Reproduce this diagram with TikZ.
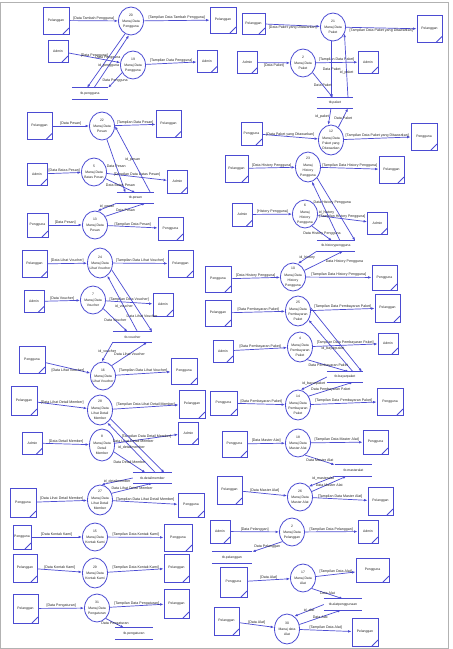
\documentclass[tikz,border=0pt]{standalone}
\usepackage{fontspec}
\setmainfont{Liberation Sans}
\usetikzlibrary{arrows.meta, positioning, shapes.geometric}

\definecolor{dfdline}{RGB}{75,75,210}
\definecolor{dfdtext}{RGB}{35,35,35}

\tikzset{
  entity/.style={
    draw=dfdline,
    rectangle,
    line width=0.8pt,
    minimum width=25pt,
    minimum height=27pt,
    inner sep=0pt,
    text=dfdtext,
    font=\fontsize{3.4}{4}\selectfont,
    path picture={
      \draw[dfdline, line width=0.8pt]
        ([xshift=-6pt]path picture bounding box.south east)
        -- ([yshift=6pt]path picture bounding box.south east);
    }
  },
  smallentity/.style={
    entity,
    minimum width=20pt,
    minimum height=22pt
  },
  proc/.style={
    draw=dfdline,
    ellipse,
    line width=0.8pt,
    minimum width=25pt,
    minimum height=28pt,
    inner sep=-2pt,
    align=center,
    text=dfdtext,
    font=\fontsize{3.4}{5}\selectfont
  },
  store/.style={
    rectangle,
    minimum width=37pt,
    minimum height=10pt,
    inner sep=0pt,
    text=dfdtext,
    font=\fontsize{3.4}{4}\selectfont
  },
  arrow/.style={
    -{Latex[length=3.5pt,width=2.6pt]},
    draw=dfdline,
    line width=0.7pt
  },
  lbl/.style={
    inner sep=0.5pt,
    text=dfdtext,
    font=\fontsize{3.6}{4}\selectfont
  }
}

\begin{document}
\begin{tikzpicture}[x=1pt, y=-1pt]
\useasboundingbox (0,0) rectangle (453,649);
\draw[gray!60, line width=0.8pt] (0.5,2) rectangle (448,648.5);

% Manaj Data Pengguna
\node[entity, minimum width=26pt] (in20) at (56,20.5) {Pelanggan};
\node[proc] (p20) at (131,21) {20\\[1.5pt]Manaj Data\\Pengguna};
\node[entity, minimum width=26pt, minimum height=26pt] (out20) at (223,20) {Pelanggan};
\node[smallentity] (in19) at (58,51) {Admin};
\node[proc] (p19) at (133,65) {19\\[1.5pt]Manaj Data\\Pengguna};
\node[smallentity] (out19) at (207,61.5) {Admin};
\node[store, minimum width=36pt, minimum height=11pt] (tbpengguna) at (90,93.5) {tb.pengguna};
\draw[arrow] (in20) -- node[lbl, above] {[Data Tambah Pengguna]} (p20);
\draw[arrow] (p20) -- node[lbl, above] {[Tampilan Data Tambah Pengguna]} (out20);
\draw[arrow] (in19) -- node[lbl, above] {[Data Pengguna]} (p19);
\draw[arrow] (p19) -- node[lbl, above] {[Tampilan Data Pengguna]} (out19);
\draw[arrow] (p20.245) -- node[lbl, pos=0.45] {Data Pengguna} ([xshift=-3pt]tbpengguna.north);
\draw[arrow] ([xshift=4pt]tbpengguna.north) -- node[lbl, pos=0.42] {id\_pengguna} (p20.262);
\draw[arrow] (p19.215) -- node[lbl] {Data Pengguna} (tbpengguna.north east);

% Manaj Data Paket
\node[entity, minimum width=23pt, minimum height=21pt] (in21) at (253.5,23.5) {Pelanggan};
\node[proc] (p21) at (333,27) {21\\[1.5pt]Manaj Data\\Paket};
\node[entity] (out21) at (429.5,29) {Pelanggan};
\node[smallentity] (in2) at (247.5,62.5) {Admin};
\node[proc] (p2) at (303,63) {2\\[1.5pt]Manaj Data\\Paket};
\node[smallentity] (out2) at (368,62) {Admin};
\node[store, minimum width=36pt] (tbpaket) at (335,103) {tb.paket};
\draw[arrow] (in21) -- node[lbl, below] {[Data Paket yang Ditawarkan]} (p21);
\draw[arrow] (p21) -- node[lbl, below] {[Tampilan Data Paket yang Ditawarkan]} (out21);
\draw[arrow] (in2) -- node[lbl, below] {[Data Paket]} (p2);
\draw[arrow] (p2) -- node[lbl, above] {[Tampilan Data Paket]} (out2);
\draw[arrow] (p21.265) -- node[lbl] {Data Paket} (p21.265 |- tbpaket.north);
\draw[arrow] ([xshift=13pt]tbpaket.north) -- node[lbl, pos=0.4] {id\_paket} (p21.330);
\draw[arrow] (p2.315) -- node[lbl] {Data Paket} ([xshift=-2pt]tbpaket.north);

% Manaj Data Pesan
\node[entity] (in22) at (39.5,126) {Pelanggan};
\node[proc] (p22) at (102,126) {22\\[1.5pt]Manaj Data\\Pesan};
\node[entity] (out22) at (168.5,124) {Pelanggan};
\node[smallentity] (in5) at (37,174) {Admin};
\node[proc] (p5) at (94,172) {5\\[1.5pt]Manaj Data\\Batas Pesan};
\node[smallentity, minimum height=23pt] (out5) at (177.5,181.5) {Admin};
\node[entity, minimum width=21pt, minimum height=24pt] (in13) at (37.5,225) {Pengguna};
\node[proc] (p13) at (95,225) {13\\[1.5pt]Manaj Data\\Pesan};
\node[entity, minimum height=23pt] (out13) at (170.5,228.5) {Pengguna};
\node[store] (tbpesan) at (135.5,198) {tb.pesan};
\draw[arrow] (in22) -- node[lbl, above] {[Data Pesan]} (p22);
\draw[arrow] (p22) -- node[lbl, above] {[Tampilan Data Pesan]} (out22);
\draw[arrow] (in5) -- node[lbl, above] {[Data Batas Pesan]} (p5);
\draw[arrow] (p5) -- node[lbl, above] {[Tampilan Data Batas Pesan]} (out5);
\draw[arrow] (in13) -- node[lbl, above] {[Data Pesan]} (p13);
\draw[arrow] (p13) -- node[lbl, above] {[Tampilan Data Pesan]} (out13);
\draw[arrow] (p22.290) -- node[lbl] {Data Pesan} ([xshift=-10pt]tbpesan.north);
\draw[arrow] ([xshift=15pt]tbpesan.north) -- node[lbl] {id\_pesan} (p22.east);
\draw[arrow] (p5.330) -- node[lbl] {Data Batas Pesan} (tbpesan.north);
\draw[arrow] (tbpesan.south west) -- node[lbl] {id\_pesan} (p13.80);
\draw[arrow] (p13.40) -- node[lbl] {Data Pesan} ([xshift=10pt]tbpesan.south);

% Manaj Data Voucher
\node[entity] (in24) at (34.5,264) {Pelanggan};
\node[proc, minimum height=30pt] (p24) at (100,263) {24\\[1.5pt]Manaj Data\\Lihat Voucher};
\node[entity] (out24) at (180.5,263.5) {Pelanggan};
\node[smallentity] (in7) at (34,301.5) {Admin};
\node[proc] (p7) at (93,300) {7\\[1.5pt]Manaj Data\\Voucher};
\node[smallentity, minimum height=23pt] (out7) at (163,304.5) {Admin};
\node[entity, minimum width=26pt] (in16) at (32,359.5) {Pengguna};
\node[proc] (p16) at (103,376) {16\\[1.5pt]Manaj Data\\Lihat Voucher};
\node[entity, minimum width=26pt, minimum height=26pt] (out16) at (184,371) {Pengguna};
\node[store, minimum width=39pt] (tbvoucher) at (132.5,337) {tb.voucher};
\draw[arrow] (in24) -- node[lbl, above] {[Data Lihat Voucher]} (p24);
\draw[arrow] (p24) -- node[lbl, above] {[Tampilan Data Lihat Voucher]} (out24);
\draw[arrow] (in7) -- node[lbl, above] {[Data Voucher]} (p7);
\draw[arrow] (p7) -- node[lbl, above] {[Tampilan Data Voucher]} (out7);
\draw[arrow] (in16) -- node[lbl, below] {[Data Lihat Voucher]} (p16);
\draw[arrow] (p16) -- node[lbl, above] {[Tampilan Data Lihat Voucher]} (out16);
\draw[arrow] (p24.330) -- node[lbl, pos=0.75] {Data Lihat Voucher} (tbvoucher.north east);
\draw[arrow] ([xshift=5pt]tbvoucher.north) -- node[lbl, pos=0.45] {id\_voucher} (p24.300);
\draw[arrow] (p7.320) -- node[lbl] {Data Voucher} ([xshift=-5pt]tbvoucher.north);
\draw[arrow] (tbvoucher.south west) -- node[lbl] {id\_voucher} (p16.95);
\draw[arrow] (p16.50) -- node[lbl] {Data Lihat Voucher} ([xshift=-5pt]tbvoucher.south east);

% Manaj Data Detail Member
\node[entity, minimum width=26pt, minimum height=29pt] (in28) at (24,400.5) {Pelanggan};
\node[proc, minimum height=30pt] (p28) at (100,410) {28\\[1.5pt]Manaj Data\\Lihat Detail\\Member};
\node[entity, minimum width=26pt, minimum height=28pt] (out28) at (192,404) {Pelanggan};
\node[smallentity] (in8) at (32.5,443) {Admin};
\node[proc, minimum height=32pt] (p8) at (102,445) {8\\[1.5pt]Manaj Data\\Detail\\Member};
\node[smallentity] (out8) at (188.5,433) {Admin};
\node[entity, minimum width=26pt, minimum height=29pt] (in27) at (23,502.5) {Pengguna};
\node[proc, minimum height=30pt] (p27) at (100,500) {27\\[1.5pt]Manaj Data\\Lihat Detail\\Member};
\node[entity, minimum width=26pt, minimum height=24pt] (out27) at (191,505) {Pengguna};
\node[store, minimum width=39pt] (tbdetail) at (152.5,478) {tb.detailmember};
\draw[arrow] (in28) -- node[lbl, above] {[Data Lihat Detail Member]} (p28);
\draw[arrow] (p28) -- node[lbl, above] {[Tampilan Data Lihat Detail Member]} (out28);
\draw[arrow] (in8) -- node[lbl, above] {[Data Detail Member]} (p8);
\draw[arrow] (p8) -- node[lbl, above] {[Tampilan Data Detail Member]} (out8);
\draw[arrow] (in27) -- node[lbl, above] {[Data Lihat Detail Member]} (p27);
\draw[arrow] (p27) -- node[lbl, above] {[Tampilan Data Lihat Detail Member]} (out27);
\draw[arrow] (p28.320) -- node[lbl, pos=0.42] {Data Lihat Detail Member} ([xshift=12pt]tbdetail.north);
\draw[arrow] ([xshift=3pt]tbdetail.north) -- node[lbl] {id\_detailmember} (p28.300);
\draw[arrow] (p8.330) -- node[lbl] {Data Detail Member} ([xshift=-7pt]tbdetail.north);
\draw[arrow] (tbdetail.west) -- node[lbl] {id\_detailmember} (p27.85);
\draw[arrow] (p27.30) -- node[lbl] {Data Lihat Detail Member} (tbdetail.south);

% Manaj Data Kontak Kami dan Pengaturan
\node[entity, minimum width=18pt, minimum height=24pt] (in15) at (22,537) {Pengguna};
\node[proc] (p15) at (95,537) {15\\[1.5pt]Manaj Data\\Kontak Kami};
\node[entity, minimum width=28pt] (out15) at (178,537.5) {Pengguna};
\node[entity, minimum width=24pt, minimum height=28pt] (in29) at (25,568) {Pelanggan};
\node[proc, minimum height=30pt] (p29) at (95,573) {29\\[1.5pt]Manaj Data\\Kontak Kami};
\node[entity, minimum height=28pt] (out29) at (176.5,568) {Pelanggan};
\node[entity, minimum height=29pt] (in31) at (25.5,608.5) {Pelanggan};
\node[proc] (p31) at (97,608) {31\\[1.5pt]Manaj Data\\Pengaturan};
\node[entity, minimum height=29pt] (out31) at (176.5,603.5) {Pelanggan};
\node[store, minimum width=38pt, minimum height=11pt] (tbpengaturan) at (134,633.5) {tb.pengaturan};
\draw[arrow] (in15) -- node[lbl, above] {[Data Kontak Kami]} (p15);
\draw[arrow] (p15) -- node[lbl, above] {[Tampilan Data Kontak Kami]} (out15);
\draw[arrow] (in29) -- node[lbl, above] {[Data Kontak Kami]} (p29);
\draw[arrow] (p29) -- node[lbl, above] {[Tampilan Data Kontak Kami]} (out29);
\draw[arrow] (in31) -- node[lbl, above] {[Data Pengaturan]} (p31);
\draw[arrow] (p31) -- node[lbl, above] {[Tampilan Data Pengaturan]} (out31);
\draw[arrow] (p31.310) -- node[lbl] {Data Pengaturan} ([xshift=-10pt]tbpengaturan.north);

% Manaj Data Paket yang Ditawarkan
\node[entity, minimum width=21pt, minimum height=23pt] (in12) at (251.5,133.5) {Pengguna};
\node[proc, minimum height=30pt] (p12) at (331,140) {12\\[1.5pt]Manaj Data\\Paket yang\\Ditawarkan};
\node[entity, minimum width=26pt] (out12) at (424,136.5) {Pengguna};
\draw[arrow] (in12) -- node[lbl, above] {[Data Paket yang Ditawarkan]} (p12);
\draw[arrow] (p12) -- node[lbl, above] {[Tampilan Data Paket yang Ditawarkan]} (out12);
\draw[arrow] ([xshift=-4pt]tbpaket.south) -- node[lbl, left] {id\_paket} (p12.100);
\draw[arrow] (p12.60) -- node[lbl] {Data Paket} ([xshift=13pt]tbpaket.south);

% Manaj History Pengguna
\node[entity, minimum width=23pt] (in23) at (236.5,168.5) {Pelanggan};
\node[proc, minimum height=30pt] (p23) at (308,167) {23\\[1.5pt]Manaj\\History\\Pengguna};
\node[entity] (out23) at (391.5,169.5) {Pelanggan};
\node[smallentity, minimum height=23pt] (in6) at (242.5,214.5) {Admin};
\node[proc] (p6) at (305,214) {6\\[1.5pt]Manaj\\History\\Pengguna};
\node[smallentity] (out6) at (377.5,223) {Admin};
\node[entity, minimum width=26pt, minimum height=26pt] (in10) at (218,279) {Pengguna};
\node[proc] (p10) at (293,277) {10\\[1.5pt]Manaj Data\\History\\Pengguna};
\node[entity, minimum height=25pt] (out10) at (384.5,277.5) {Pengguna};
\node[store, minimum width=38pt] (tbhistory) at (336,246) {tb.historypengguna};
\draw[arrow] (in23) -- node[lbl, above] {[Data History Pengguna]} (p23);
\draw[arrow] (p23) -- node[lbl, above] {[Tampilan Data History Pengguna]} (out23);
\draw[arrow] (in6) -- node[lbl, above] {[History Pengguna]} (p6);
\draw[arrow] (p6) -- node[lbl, above] {[Tampilan History Pengguna]} (out6);
\draw[arrow] (in10) -- node[lbl, above] {[Data History Pengguna]} (p10);
\draw[arrow] (p10) -- node[lbl, above] {[Tampilan Data History Pengguna]} (out10);
\draw[arrow] (p23.310) -- node[lbl, pos=0.4] {Data History Pengguna} (tbhistory.north east);
\draw[arrow] ([xshift=4pt]tbhistory.north) -- node[lbl, pos=0.48] {id\_history} (p23.285);
\draw[arrow] (p6.300) -- node[lbl] {Data History Pengguna} ([xshift=-4pt]tbhistory.north);
\draw[arrow] (tbhistory.south west) -- node[lbl] {id\_history} (p10.70);
\draw[arrow] (p10.30) -- node[lbl, pos=0.55, below right=-1pt] {Data History Pengguna} ([xshift=7pt]tbhistory.south);

% Manaj Data Pembayaran Paket
\node[entity, minimum width=26pt, minimum height=26pt] (in25) at (218,313) {Pelanggan};
\node[proc, minimum height=30pt] (p25) at (298,311) {25\\[1.5pt]Manaj Data\\Pembayaran\\Paket};
\node[entity, minimum height=28pt] (out25) at (387.5,308) {Pelanggan};
\node[smallentity] (in4) at (223,351) {Admin};
\node[proc, minimum height=30pt] (p4) at (300,347) {4\\[1.5pt]Manaj Data\\Pembayaran\\Paket};
\node[smallentity, minimum height=21pt] (out4) at (388,343.5) {Admin};
\node[entity, minimum width=27pt, minimum height=24pt] (in14) at (223.5,403) {Pengguna};
\node[proc, minimum height=30pt] (p14) at (298,405) {14\\[1.5pt]Manaj Data\\Pembayaran\\Paket};
\node[entity, minimum width=26pt] (out14) at (390,401.5) {Pengguna};
\node[store, minimum width=36pt] (tbbayar) at (345,377) {tb.bayarpaket};
\draw[arrow] (in25) -- node[lbl, above] {[Data Pembayaran Paket]} (p25);
\draw[arrow] (p25) -- node[lbl, above] {[Tampilan Data Pembayaran Paket]} (out25);
\draw[arrow] (in4) -- node[lbl, above] {[Data Pembayaran Paket]} (p4);
\draw[arrow] (p4) -- node[lbl, above] {[Tampilan Data Pembayaran Paket]} (out4);
\draw[arrow] (in14) -- node[lbl, above] {[Data Pembayaran Paket]} (p14);
\draw[arrow] (p14) -- node[lbl, above] {[Tampilan Data Pembayaran Paket]} (out14);
\draw[arrow] (p25.15) -- ([xshift=17pt]tbbayar.north);
\draw[arrow] ([xshift=8pt]tbbayar.north) -- node[lbl, pos=0.45] {id\_bayarpaket} (p25.320);
\draw[arrow] (p4.300) -- node[lbl] {Data Pembayaran Paket} ([xshift=4pt]tbbayar.north);
\draw[arrow] (tbbayar.west) -- node[lbl] {id\_bayarpaket} (p14.80);
\draw[arrow] (p14.40) -- node[lbl] {Data Pembayaran Paket} ([xshift=8pt]tbbayar.south);

% Manaj Data Master Alat
\node[entity, minimum height=26pt] (in18) at (234.5,444) {Pengguna};
\node[proc] (p18) at (298,443) {18\\[1.5pt]Manaj Data\\Master Alat};
\node[entity, minimum height=24pt] (out18) at (375.5,442) {Pengguna};
\node[entity, minimum height=28pt] (in26) at (229.5,490) {Pelanggan};
\node[proc] (p26) at (300,497) {26\\[1.5pt]Manaj Data\\Master Alat};
\node[entity, minimum height=28pt] (out26) at (380.5,501) {Pelanggan};
\node[store, minimum height=11pt] (tbmaster) at (353.5,470.5) {tb.masteralat};
\draw[arrow] (in18) -- node[lbl, above] {[Data Master Alat]} (p18);
\draw[arrow] (p18) -- node[lbl, above] {[Tampilan Data Master Alat]} (out18);
\draw[arrow] (in26) -- node[lbl, above] {[Data Master Alat]} (p26);
\draw[arrow] (p26) -- node[lbl, above] {[Tampilan Data Master Alat]} (out26);
\draw[arrow] (p18.300) -- node[lbl] {Data Master Alat} (tbmaster.north west);
\draw[arrow] (tbmaster.south west) -- node[lbl, pos=0.45, above=-0.5pt] {id\_masteralat} (p26.50);
\draw[arrow] (p26.25) -- node[lbl, below=-0.5pt] {Data Master Alat} ([xshift=-7pt]tbmaster.south);

% Manaj Data Pelanggan dan Alat
\node[smallentity, minimum height=23pt] (in2b) at (220,531.5) {Admin};
\node[proc] (p2b) at (292,532) {2\\[1.5pt]Manaj Data\\Pelanggan};
\node[smallentity, minimum height=23pt] (out2b) at (368,531.5) {Admin};
\node[store, minimum width=40pt, minimum height=11pt] (tbpelanggan) at (232,557.5) {tb.pelanggan};
\node[entity, minimum width=27pt, minimum height=30pt] (in17) at (233.5,582) {Pengguna};
\node[proc] (p17) at (303,578) {17\\[1.5pt]Manaj Data\\Alat};
\node[entity, minimum width=33pt, minimum height=24pt] (out17) at (372.5,570) {Pengguna};
\node[entity, minimum height=28pt] (in30) at (226.5,621) {Pelanggan};
\node[proc, minimum height=30pt] (p30) at (287,629) {30\\[1.5pt]Manaj data\\Alat};
\node[entity, minimum width=26pt, minimum height=28pt] (out30) at (365,632) {Pelanggan};
\node[store, minimum width=38pt, minimum height=11pt] (tbalat) at (343,604.5) {tb.alatpenggunaan};
\draw[arrow] (in2b) -- node[lbl, above] {[Data Pelanggan]} (p2b);
\draw[arrow] (p2b) -- node[lbl, above] {[Tampilan Data Pelanggan]} (out2b);
\draw[arrow] (p2b.225) -- node[lbl] {Data Pelanggan} (tbpelanggan.north east);
\draw[arrow] (in17) -- node[lbl, above] {[Data Alat]} (p17);
\draw[arrow] (p17) -- node[lbl, above] {[Tampilan Data Alat]} (out17);
\draw[arrow] (in30) -- node[lbl, above] {[Data Alat]} (p30);
\draw[arrow] (p30) -- node[lbl, above] {[Tampilan Data Alat]} (out30);
\draw[arrow] (p17.310) -- node[lbl] {Data Alat} (tbalat.north);
\draw[arrow] (tbalat.west) -- node[lbl] {id\_alat} (p30.60);
\draw[arrow] (p30.20) -- node[lbl] {Data Alat} ([xshift=-2pt]tbalat.south);

% garis data store
\foreach \s in {tbpengguna, tbpaket, tbpesan, tbvoucher, tbdetail, tbpengaturan, tbhistory, tbbayar, tbmaster, tbpelanggan, tbalat}
  \draw[dfdline, line width=0.8pt] (\s.north west) -- (\s.north east) (\s.south west) -- (\s.south east);

\end{tikzpicture}
\end{document}
